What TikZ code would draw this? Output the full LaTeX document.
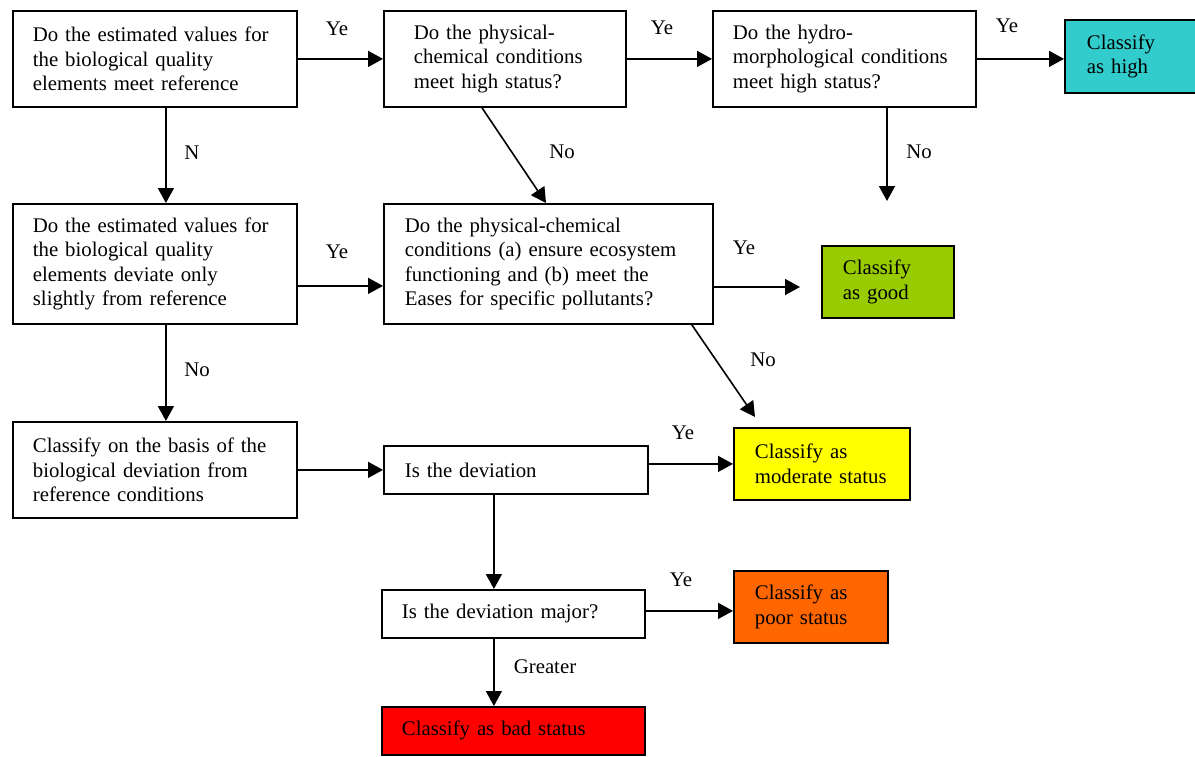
\documentclass[tikz,border=0pt]{standalone}
\usepackage{fontspec}
\setmainfont{Liberation Serif}
\usetikzlibrary{arrows.meta,calc}
\definecolor{chigh}{HTML}{33CCCC}
\definecolor{cgood}{HTML}{99CC00}
\definecolor{cmod}{HTML}{FFFF00}
\definecolor{cpoor}{HTML}{FF6600}
\definecolor{cbad}{HTML}{FF0000}
\begin{document}
\begin{tikzpicture}[x=1pt,y=-1pt,
  every node/.style={font=\fontsize{20.8}{24.5}\selectfont},
  box/.style={draw,line width=1.8pt,rectangle,anchor=north west,inner xsep=0pt,inner ysep=0pt,align=left},
  arr/.style={line width=1.6pt,-{Triangle[length=15pt,width=16pt]}},
  lbl/.style={inner sep=0pt}]
\useasboundingbox (0,0) rectangle (1195,756);
% row 1
\node[box,text width=284pt,minimum height=96pt] (A) at (12,10)
  {\leftskip=20pt\relax Do the estimated values for\\the biological quality\\elements meet reference\par};
\node[box,text width=242pt,minimum height=96pt] (B) at (383,10)
  {\leftskip=30pt\relax Do the physical-\\chemical conditions\\meet high status?\par};
\node[box,text width=263pt,minimum height=96pt] (C) at (712,10)
  {\leftskip=20pt\relax Do the hydro-\\morphological conditions\\meet high status?\par};
\node[box,fill=chigh,text width=133pt,minimum height=73pt] (High) at (1064,19)
  {\leftskip=22pt\relax Classify\\as high\par};
% row 2
\node[box,text width=284pt,minimum height=120pt] (A1) at (12,203)
  {\leftskip=20pt\relax Do the estimated values for\\the biological quality\\elements deviate only\\slightly from reference\par};
\node[box,text width=329pt,minimum height=120pt] (D) at (383,203)
  {\leftskip=21pt\relax Do the physical-chemical\\conditions (a) ensure ecosystem\\functioning and (b) meet the\\Eases for specific pollutants?\par};
\node[box,fill=cgood,text width=132pt,minimum height=72pt] (Good) at (821,245)
  {\leftskip=21pt\relax Classify\\as good\par};
% row 3
\node[box,text width=284pt,minimum height=96pt] (A2) at (12,421)
  {\leftskip=20pt\relax Classify on the basis of the\\biological deviation from\\reference conditions\par};
\node[box,text width=264pt,minimum height=48pt] (E) at (383,445)
  {\leftskip=21pt\relax Is the deviation\par};
\node[box,fill=cmod,text width=176pt,minimum height=72pt] (Mod) at (733,427)
  {\leftskip=21pt\relax Classify as\\moderate status\par};
% row 4
\node[box,text width=263pt,minimum height=48pt] (F) at (381,589)
  {\leftskip=20pt\relax Is the deviation major?\par};
\node[box,fill=cpoor,text width=154pt,minimum height=72pt] (Poor) at (733,570)
  {\leftskip=21pt\relax Classify as\\poor status\par};
\node[box,fill=cbad,text width=263pt,minimum height=48pt] (Bad) at (381,706)
  {\leftskip=20pt\relax Classify as bad status\par};
% free ends
\coordinate (cNo) at (887,201);
\coordinate (gIn) at (800,287);
\coordinate (mIn) at (755,417);
% connectors
\draw[arr] (A.east) -- (B.west);
\draw[arr] (B.east) -- (C.west);
\draw[arr] (C.east) -- (C.east -| High.west);
\draw[arr] ([xshift=11pt]A.south) -- ([xshift=11pt]A1.north);
\draw[arr] ([xshift=11pt]A1.south) -- ([xshift=11pt]A2.north);
\draw[arr] ([yshift=-22pt]A1.east) -- ([yshift=-22pt]A1.east -| D.west);
\draw[arr] (A2.east) -- (A2.east -| E.west);
\draw[arr] ([xshift=99pt]B.south west) -- ([xshift=163pt]D.north west);
\draw[arr] (cNo |- C.south) -- (cNo);
\draw[arr] (gIn -| D.east) -- (gIn);
\draw[arr] ([xshift=-22pt]D.south east) -- (mIn);
\draw[arr] (E.east |- Mod.west) -- (Mod.west);
\draw[arr] ([xshift=-22pt]E.south) -- ([xshift=-22pt]E.south |- F.north);
\draw[arr] ([yshift=3pt]F.east) -- ([yshift=3pt]F.east -| Poor.west);
\draw[arr] ([xshift=-19.5pt]F.south) -- ([xshift=-19.5pt]Bad.north);
% labels
\node[lbl] (lAB) at (337,29) {Ye};
\node[lbl] (lBC) at (662,28) {Ye};
\node[lbl] (lCH) at (1007,26) {Ye};
\node[lbl] (lAA1) at (192,153) {N};
\node[lbl] (lBD) at (562,152) {No};
\node[lbl] (lCN) at (919,152) {No};
\node[lbl] (lA1D) at (337,252) {Ye};
\node[lbl] (lDG) at (744,248) {Ye};
\node[lbl] (lA1A2) at (197,370) {No};
\node[lbl] (lDM) at (763,360) {No};
\node[lbl] (lEM) at (683,433) {Ye};
\node[lbl] (lFP) at (681,580) {Ye};
\node[lbl] (lFB) at (545,667) {Greater};
\end{tikzpicture}
\end{document}
